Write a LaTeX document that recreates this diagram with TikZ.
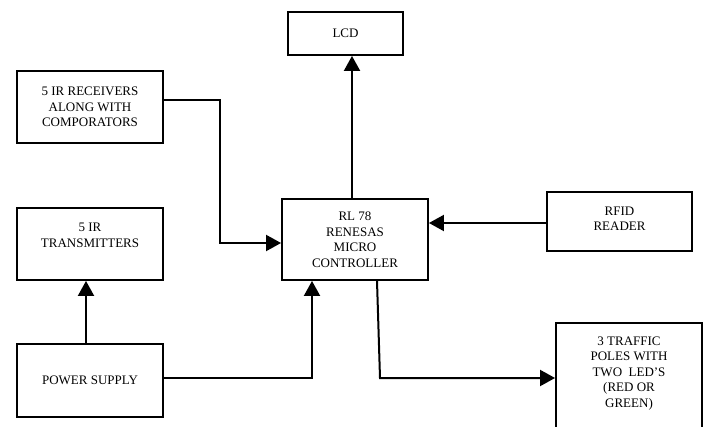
\documentclass[tikz,border=0pt]{standalone}
\usepackage{fontspec}
\setmainfont{Liberation Serif}
\usetikzlibrary{positioning,calc,arrows.meta}

\tikzset{
	blk/.style={draw, line width=1.9pt, align=center, inner sep=0pt,
		font=\fontsize{13}{15.5}\selectfont},
	link/.style={line width=2pt, -{Triangle[length=15pt,width=16pt]}},
}

\begin{document}
\begin{tikzpicture}[x=1pt,y=-1pt]
		\useasboundingbox (0,0) rectangle (708,427);

		\node[blk, minimum width=115pt, minimum height=43pt] (lcd) at (345.5,33.5) {LCD};
		\node[blk, minimum width=146pt, minimum height=72pt] (recv) at (90,107) {5 IR RECEIVERS\\ALONG WITH\\COMPORATORS};
		\node[blk, minimum width=146pt, minimum height=72pt, text depth=18pt] (trans) at (90,244) {5 IR\\TRANSMITTERS};
		\node[blk, minimum width=146pt, minimum height=73pt] (power) at (90,380.5) {POWER SUPPLY};
		\node[blk, minimum width=146pt, minimum height=81pt] (mcu) at (355,239.5) {RL 78\\RENESAS\\MICRO\\CONTROLLER};
		\node[blk, minimum width=145pt, minimum height=59pt, text depth=6pt] (rfid) at (619.5,221.5) {RFID\\READER};
		\node[blk, minimum width=146pt, minimum height=150pt, text depth=52pt, anchor=north] (traffic) at (629,322) {3 TRAFFIC\\POLES WITH\\TWO\ \ LED’S\\(RED OR\\GREEN)};

		\coordinate (bend) at (380,378);

		\draw[link] ([xshift=-3pt]mcu.north) -- ([xshift=-3pt]mcu.north |- lcd.south);
		\draw[link] ([yshift=7pt]recv.east) -- ++(56,0) |- ([yshift=-3.5pt]mcu.west);
		\draw[link] ([xshift=-4pt]power.north) -- ([xshift=-4pt]power.north |- trans.south);
		\draw[link] ([yshift=2.5pt]power.east) -| ([xshift=-43pt]mcu.south);
		\draw[link] ([yshift=-1.5pt]rfid.west) -- ([yshift=-1.5pt]rfid.west -| mcu.east);
		\draw[link] ([xshift=22pt]mcu.south) -- (bend) -- (bend -| traffic.west);
	\end{tikzpicture}
\end{document}
